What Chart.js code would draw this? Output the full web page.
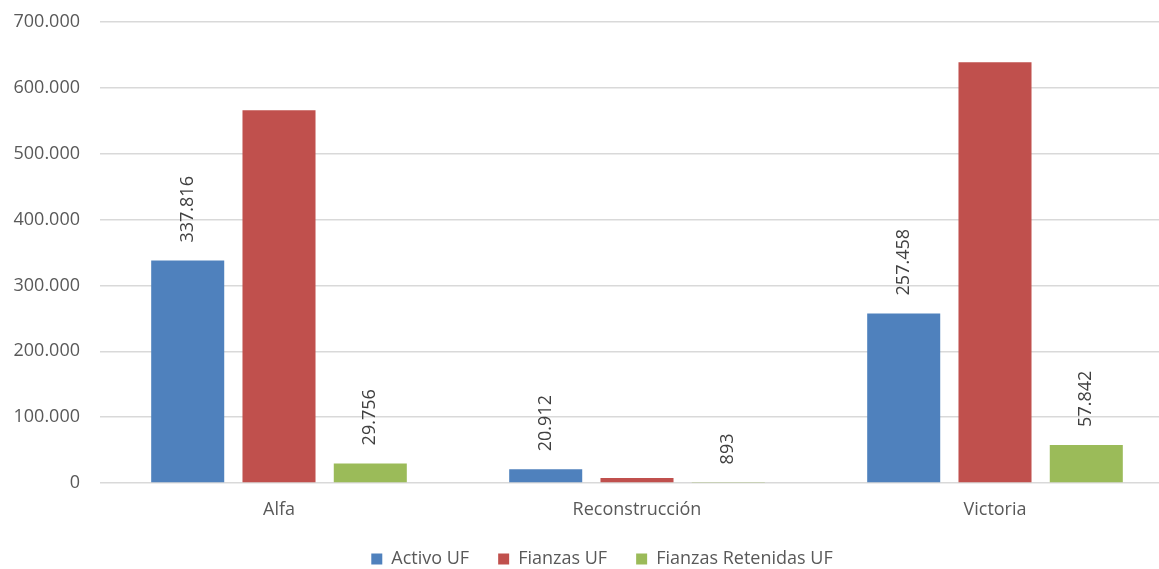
<!DOCTYPE html>
<html>
<head>
<meta charset="utf-8">
<script src="https://cdn.jsdelivr.net/npm/chart.js@4/dist/chart.umd.min.js"></script>
<style>
  html, body { margin: 0; padding: 0; background: #fff; overflow: hidden; }
  #wrap { width: 1159px; height: 569px; overflow: hidden; }
</style>
</head>
<body>
<div id="wrap"><canvas id="myChart" width="1174" height="569"></canvas></div>
<script>
// Chart data
var categories = ['Alfa', 'Reconstrucción', 'Victoria'];
var activoUF = [337816, 20912, 257458];
var fianzasUF = [566000, 7600, 639000];
var fianzasRetenidasUF = [29756, 893, 57842];
var yTicks = [0, 100000, 200000, 300000, 400000, 500000, 600000, 700000];

var FONT = '"Open Sans", sans-serif';

// Thousands with dots, like the original
function fmt(v) {
  return String(Math.round(v)).replace(/\B(?=(\d{3})+(?!\d))/g, '.');
}

// Small plugin to draw rotated value labels above bars
var barLabels = {
  id: 'barLabels',
  afterDatasetsDraw: function(chart) {
    var ctx = chart.ctx;
    chart.data.datasets.forEach(function(ds, i) {
      if (!ds.showLabels) return;
      var meta = chart.getDatasetMeta(i);
      meta.data.forEach(function(bar, j) {
        ctx.save();
        ctx.translate(bar.x, bar.y - 18);
        ctx.rotate(-Math.PI / 2);
        ctx.font = '18px ' + FONT;
        ctx.fillStyle = '#404040';
        ctx.textAlign = 'left';
        ctx.textBaseline = 'middle';
        ctx.fillText(fmt(ds.data[j]), 0, 0);
        ctx.restore();
      });
    });
  }
};

// Make the legend box shorter and nudge it to the right
var legendTweak = {
  id: 'legendTweak',
  beforeLayout: function(chart) {
    var lg = chart.legend;
    if (lg && !lg._patched) {
      var origFit = lg.fit;
      lg.fit = function() {
        origFit.call(this);
        this.height = 48;
      };
      lg._patched = true;
    }
  },
  afterLayout: function(chart) {
    var lg = chart.legend;
    lg.left += 15; lg.right += 15;
  }
};

var ctx = document.getElementById('myChart').getContext('2d');

var myChart = new Chart(ctx, {
  type: 'bar',
  data: {
    labels: categories,
    datasets: [{
      label: 'Activo UF',
      data: activoUF,
      backgroundColor: '#4F81BD',
      showLabels: true
    }, {
      label: 'Fianzas UF',
      data: fianzasUF,
      backgroundColor: '#C0504D',
      showLabels: false
    }, {
      label: 'Fianzas Retenidas UF',
      data: fianzasRetenidasUF,
      backgroundColor: '#9BBB59',
      showLabels: true
    }]
  },
  plugins: [barLabels, legendTweak],
  options: {
    responsive: false,
    animation: false,
    barPercentage: 0.8,
    categoryPercentage: 0.765,
    layout: {
      padding: { top: 22, right: 0, left: 0, bottom: 0 }
    },
    plugins: {
      tooltip: { enabled: false },
      legend: {
        position: 'bottom',
        labels: {
          boxWidth: 11,
          boxHeight: 11,
          padding: 29,
          color: '#595959',
          font: { family: FONT, size: 18 }
        }
      }
    },
    scales: {
      x: {
        afterFit: function(scale) {
          scale.height = 38;
        },
        grid: { display: false, drawTicks: false },
        border: { display: false },
        ticks: {
          color: '#595959',
          padding: 16,
          font: { family: FONT, size: 18 }
        }
      },
      y: {
        min: 0,
        max: 700000,
        afterBuildTicks: function(scale) {
          scale.ticks = yTicks.map(function(v) { return { value: v }; });
        },
        afterFit: function(scale) {
          scale.width = 100;
          scale.paddingTop = 0;
          scale.paddingBottom = 0;
        },
        grid: { color: '#D9D9D9', lineWidth: 1.5, drawTicks: false },
        border: { display: false },
        ticks: {
          color: '#595959',
          padding: 20,
          font: { family: FONT, size: 18 },
          callback: function(value) { return fmt(value); }
        }
      }
    }
  }
});
</script>
</body>
</html>
